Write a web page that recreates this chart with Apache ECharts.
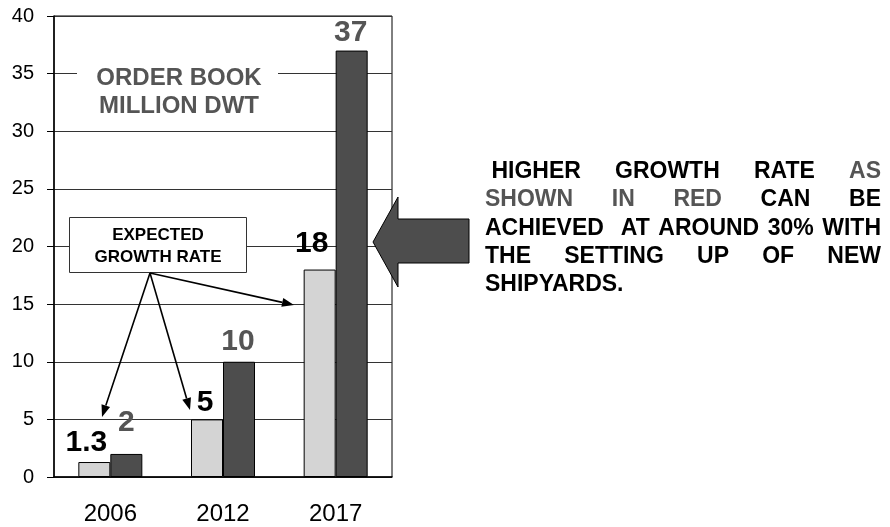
<!DOCTYPE html>
<html>
<head>
<meta charset="utf-8">
<title>Order book</title>
<script src="https://cdn.jsdelivr.net/npm/echarts@6/dist/echarts.min.js"></script>
<style>
  html, body { margin: 0; padding: 0; background: #fff; }
  #chart { width: 890px; height: 527px; }
</style>
</head>
<body>
<div id="chart"></div>
<script>
// data
const years = ["2006", "2012", "2017"];
const expected = [1.3, 5, 18];
const higher = [2, 10, 37];
const yMin = 0;
const yMax = 40;
const yStep = 5;

// small nudges so labels sit where the original put them
const expectedLabelShift = [[-8, 0], [-2, 2], [-8, -7]];
const higherLabelShift = [[0, -12], [-1, -1], [-1, 1]];

const FONT = "'Liberation Sans', Arial, sans-serif";
const GRAY = "#555555";
const LIGHT = "#d4d4d4";
const DARK = "#4d4d4d";

const chart = echarts.init(document.getElementById("chart"));

const ctx = document.createElement("canvas").getContext("2d");
const textWidth = (txt, font) => {
  ctx.font = font;
  return ctx.measureText(txt).width;
};

// thin arrow with filled head
const arrow = (x1, y1, x2, y2) => {
  const ang = Math.atan2(y2 - y1, x2 - x1);
  const len = 12;
  const half = 4.5;
  const bx = x2 - len * Math.cos(ang);
  const by = y2 - len * Math.sin(ang);
  const px = -Math.sin(ang) * half;
  const py = Math.cos(ang) * half;
  return [
    {
      type: "line",
      z: 100,
      shape: { x1, y1, x2: bx, y2: by },
      style: { stroke: "#000", lineWidth: 1.6 },
    },
    {
      type: "polygon",
      z: 100,
      shape: { points: [[x2, y2], [bx + px, by + py], [bx - px, by - py]] },
      style: { fill: "#000" },
    },
  ];
};

// justified paragraph on the right
const paraFont = "bold 23px " + FONT;
const paraLines = [
  { words: ["HIGHER", "GROWTH", "RATE", "AS"], gray: [3], indent: true },
  { words: ["SHOWN", "IN", "RED", "CAN", "BE"], gray: [0, 1, 2] },
  { words: ["ACHIEVED", "", "AT", "AROUND", "30%", "WITH"], gray: [] },
  { words: ["THE", "SETTING", "UP", "OF", "NEW"], gray: [] },
  { words: ["SHIPYARDS."], gray: [], last: true },
];
const paraLeft = 485;
const paraRight = 881;
const paraTop = 171.5;
const paraStep = 28.4;

const paragraph = [];
paraLines.forEach((line, li) => {
  const start = paraLeft + (line.indent ? textWidth(" ", paraFont) : 0);
  const widths = line.words.map((w) => textWidth(w, paraFont));
  const total = widths.reduce((a, b) => a + b, 0);
  const gaps = line.words.length - 1;
  const gap = line.last || gaps === 0
    ? textWidth(" ", paraFont)
    : (paraRight - start - total) / gaps;
  let x = start;
  line.words.forEach((w, wi) => {
    if (w) {
      paragraph.push({
        type: "text",
        z: 100,
        x,
        y: paraTop + li * paraStep,
        style: {
          text: w,
          font: paraFont,
          fill: line.gray.includes(wi) ? GRAY : "#000",
          align: "left",
          verticalAlign: "middle",
        },
      });
    }
    x += widths[wi] + gap;
  });
});

const valueLabel = (color) => ({
  show: true,
  position: "top",
  distance: 4,
  color,
  fontFamily: FONT,
  fontWeight: "bold",
  fontSize: 30,
});

chart.setOption({
  animation: false,
  backgroundColor: "#fff",
  grid: {
    left: 54,
    right: 498,
    top: 16,
    bottom: 50,
    show: true,
    borderColor: "#000",
    borderWidth: 1,
  },
  xAxis: {
    type: "category",
    data: years,
    axisLine: { lineStyle: { color: "#000", width: 1.5 } },
    axisTick: { length: 8, lineStyle: { color: "#000" } },
    axisLabel: { color: "#000", fontFamily: FONT, fontSize: 24, margin: 25 },
  },
  yAxis: {
    type: "value",
    min: yMin,
    max: yMax,
    interval: yStep,
    axisLine: { show: true, lineStyle: { color: "#000", width: 1.5 } },
    axisTick: { show: true, length: 7, lineStyle: { color: "#000" } },
    axisLabel: { color: "#000", fontFamily: FONT, fontSize: 20, margin: 20 },
    splitLine: { lineStyle: { color: "#333", width: 1 } },
  },
  series: [
    {
      name: "Expected",
      type: "bar",
      barWidth: 32,
      barGap: "0%",
      itemStyle: { color: LIGHT, borderColor: "#000", borderWidth: 1 },
      label: valueLabel("#000"),
      data: expected.map((v, i) => ({ value: v, label: { offset: expectedLabelShift[i] } })),
    },
    {
      name: "Higher",
      type: "bar",
      barWidth: 32,
      barGap: "0%",
      itemStyle: { color: DARK, borderColor: "#000", borderWidth: 1 },
      label: valueLabel(GRAY),
      data: higher.map((v, i) => ({ value: v, label: { offset: higherLabelShift[i] } })),
    },
  ],
  graphic: [
    // title, sits on a white patch over the 35 gridline
    {
      type: "rect",
      z: 90,
      shape: { x: 77, y: 62, width: 201, height: 55 },
      style: { fill: "#fff" },
    },
    {
      type: "text",
      z: 100,
      x: 179,
      y: 92,
      style: {
        text: "ORDER BOOK\nMILLION DWT",
        font: "bold 24px " + FONT,
        fill: GRAY,
        align: "center",
        verticalAlign: "middle",
        lineHeight: 28,
      },
    },
    // expected growth rate box
    {
      type: "rect",
      z: 95,
      shape: { x: 69.5, y: 217.5, width: 177, height: 55 },
      style: { fill: "#fff", stroke: "#333", lineWidth: 1 },
    },
    {
      type: "text",
      z: 100,
      x: 158,
      y: 246,
      style: {
        text: "EXPECTED\nGROWTH RATE",
        font: "bold 17px " + FONT,
        fill: "#000",
        align: "center",
        verticalAlign: "middle",
        lineHeight: 22,
      },
    },
    ...arrow(150, 273, 294, 305),
    ...arrow(150, 273, 102, 417),
    ...arrow(150, 273, 190, 410),
    // big block arrow pointing at the 2017 bars
    {
      type: "polygon",
      z: 100,
      shape: {
        points: [
          [373, 242], [398, 197], [398, 219], [469, 219],
          [469, 263], [398, 263], [398, 287],
        ],
      },
      style: { fill: DARK, stroke: "#000", lineWidth: 1 },
    },
    ...paragraph,
  ],
});
</script>
</body>
</html>
